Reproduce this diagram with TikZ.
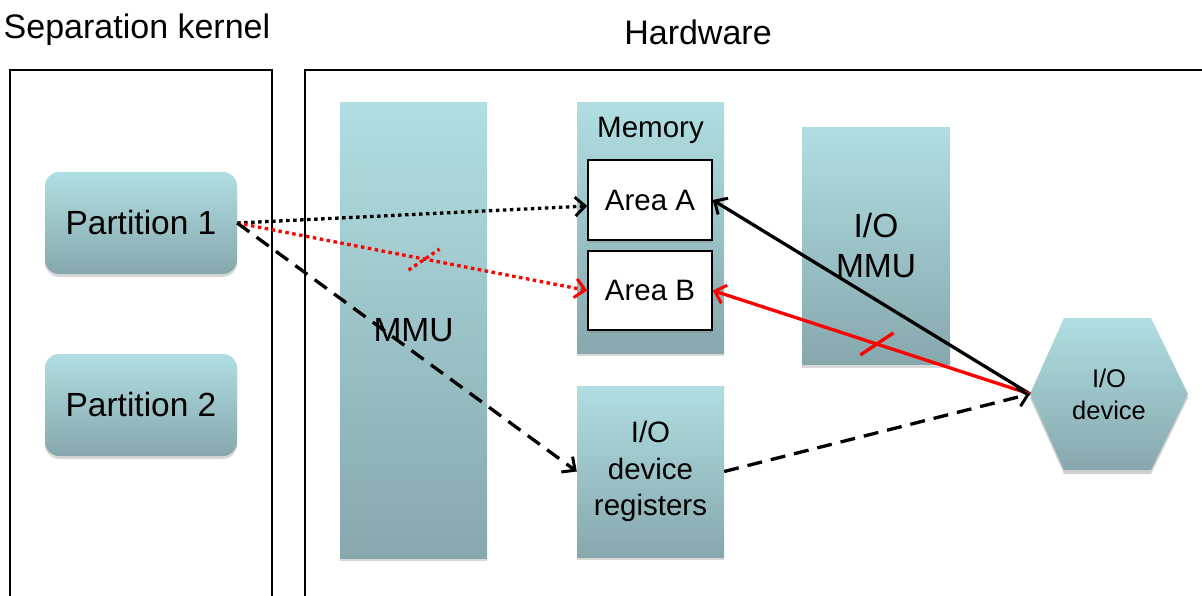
\documentclass[tikz,border=0pt]{standalone}
\usepackage{fontspec}
\setmainfont{Liberation Sans}
\usetikzlibrary{shapes.geometric,arrows.meta,shadows,calc}
\definecolor{boxtop}{HTML}{B0DEE2}
\definecolor{boxbot}{HTML}{86A8AC}
\definecolor{pred}{HTML}{FF0000}
\begin{document}
\begin{tikzpicture}[x=1pt,y=-1pt,
  shd/.style={drop shadow={shadow xshift=0pt,shadow yshift=-3pt,opacity=0.3,fill=black!50}},
  hwbox/.style={rectangle,top color=boxtop,bottom color=boxbot,draw=none,inner sep=0pt,align=center,shd},
  partbox/.style={hwbox,rounded corners=14pt,minimum width=192pt,minimum height=102pt,font=\fontsize{33.5}{40}\selectfont},
  areabox/.style={rectangle,fill=white,draw=black,line width=1.4pt,minimum width=124pt,minimum height=80pt,inner sep=0pt,font=\fontsize{29.5}{34}\selectfont,shd},
  frame/.style={draw=black,line width=1.6pt},
  conn/.style={line width=3.3pt,-{Straight Barb[length=10pt,width=19pt,line width=3pt]}},
  dotline/.style={dash pattern=on 3.5pt off 3.5pt},
  dashline/.style={dash pattern=on 15pt off 9pt},
  title/.style={font=\fontsize{34}{40}\selectfont,inner sep=0pt}
]
\useasboundingbox (0,0) rectangle (1202,596);
\fill[white] (0,0) rectangle (1202,596);

% titles
\node[title] (tsk) at (137,30) {Separation kernel};
\node[title] (thw) at (698,32) {Hardware};

% frames
\draw[frame] (10,600) -- (10,70) -- (272,70) -- (272,600);
\draw[frame] (305,600) -- (305,70) -- (1205,70);

% partitions
\node[partbox] (p1) at (141,223) {Partition 1};
\node[partbox] (p2) at (141,405) {Partition 2};

% MMU
\node[hwbox,minimum width=147pt,minimum height=455pt,font=\fontsize{33.5}{40}\selectfont] (mmu) at (413.5,330.5) {MMU};

% Memory
\node[hwbox,minimum width=147pt,minimum height=250pt] (mem) at (650.5,228) {};
\node[font=\fontsize{29.5}{34}\selectfont,inner sep=0pt] (memlbl) at (650.5,130) {Memory};
\node[areabox] (areaA) at (650,200) {Area A};
\node[areabox,minimum height=79pt] (areaB) at (650,290.5) {Area B};

% I/O MMU
\node[hwbox,minimum width=148pt,minimum height=237pt,font=\fontsize{33.5}{40}\selectfont] (iommu) at (876,246) {I/O\\MMU};

% I/O device registers
\node[hwbox,minimum width=147pt,minimum height=171pt,font=\fontsize{29.5}{36.5}\selectfont] (regs) at (650.5,471.5) {I/O\\device\\registers};

% I/O device hexagon
\coordinate (iodL) at (1030,394);
\fill[black!30,opacity=0.6] (1030,398) -- (1064,322) -- (1151,322) -- (1188,398) -- (1151,474) -- (1064,474) -- cycle;
\shade[top color=boxtop,bottom color=boxbot] (iodL) -- (1064,318) -- (1151,318) -- (1188,394) -- (1151,470) -- (1064,470) -- cycle;
\node[font=\fontsize{25.5}{32}\selectfont,align=center,inner sep=0pt] (iod) at (1109,394) {I/O\\device};

% connectors
\draw[conn,dotline,black] (p1.east) -- ($(areaA.west)+(0,6)$);
\draw[conn,dotline,pred] (p1.east) -- coordinate[pos=0.535] (x1) (areaB.west);
\draw[conn,dashline,black] (p1.east) -- (regs.west);
\draw[conn,black] (iodL) -- (areaA.east);
\draw[conn,pred] (iodL) -- coordinate[pos=0.484] (x2) (areaB.east);
\draw[conn,dashline,black] (regs.east) -- (iodL);

% cross marks
\draw[pred,line width=3.3pt,dotline] ($(x1)+(-16,11)$) -- ($(x1)+(15,-10)$);
\draw[pred,line width=3.3pt] ($(x2)+(-16,11)$) -- ($(x2)+(17,-11)$);
\end{tikzpicture}
\end{document}
